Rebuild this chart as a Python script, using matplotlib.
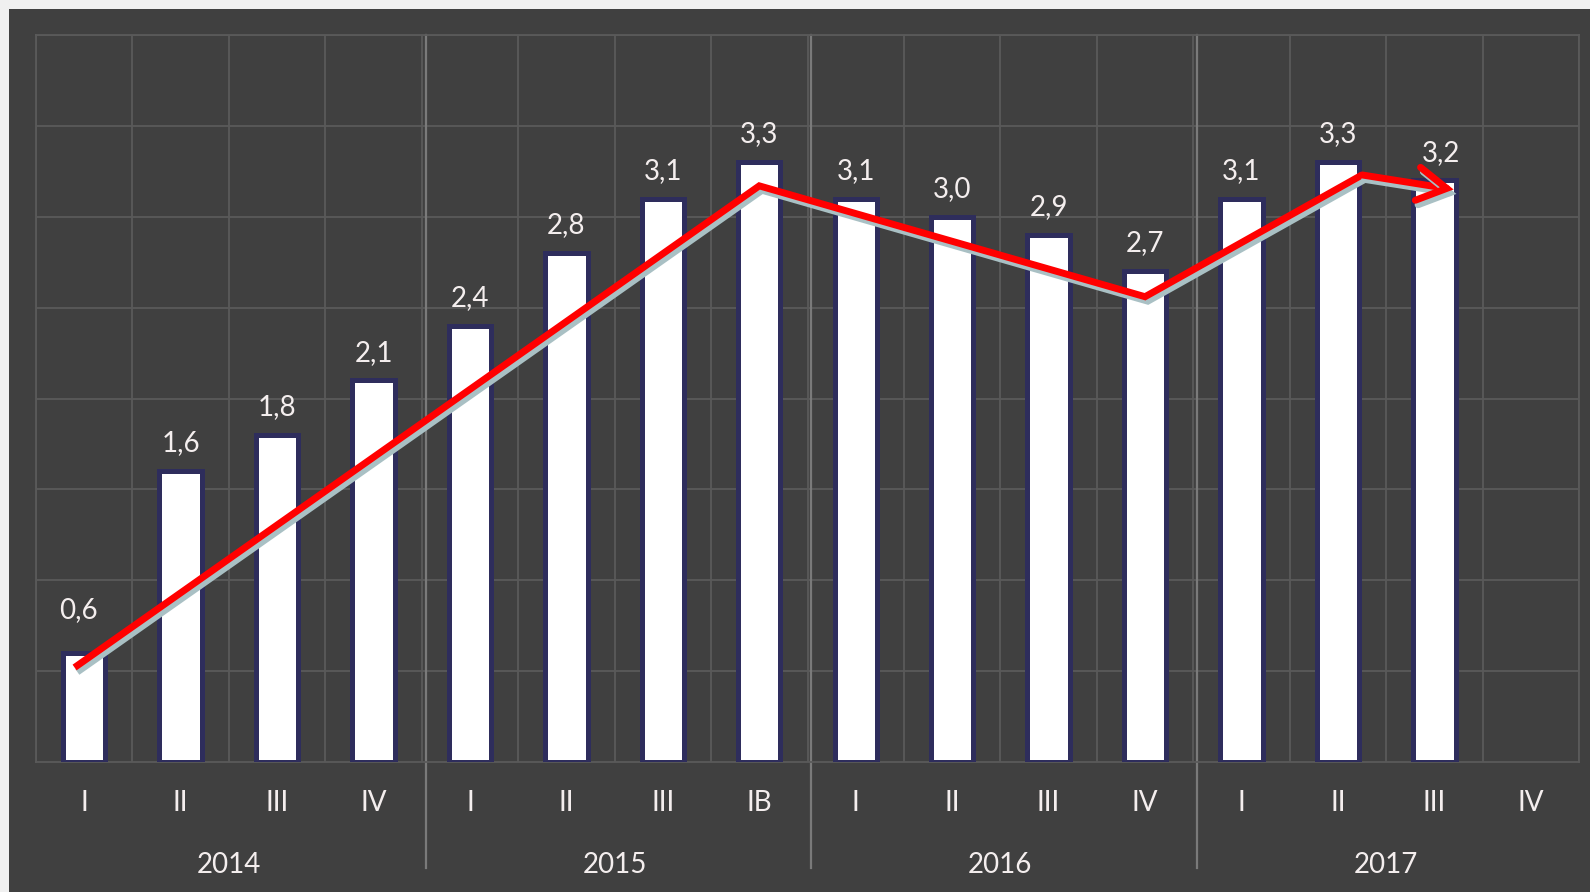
import matplotlib.pyplot as plt
import matplotlib.patheffects as pe
from matplotlib.patches import Rectangle

# data
years = ["2014", "2015", "2016", "2017"]
quarters = ["I", "II", "III", "IV", "I", "II", "III", "IB",
            "I", "II", "III", "IV", "I", "II", "III", "IV"]
values = [0.6, 1.6, 1.8, 2.1, 2.4, 2.8, 3.1, 3.3,
          3.1, 3.0, 2.9, 2.7, 3.1, 3.3, 3.2]
labels = ["0,6", "1,6", "1,8", "2,1", "2,4", "2,8", "3,1", "3,3",
          "3,1", "3,0", "2,9", "2,7", "3,1", "3,3", "3,2"]
# hand-drawn trend arrow (category index, value)
trend_x = [-0.1, 7.0, 11.0, 13.25]
trend_y = [0.52, 3.17, 2.56, 3.23]
arrow_end = (14.2, 3.15)

bg = "#404040"
grid_c = "#5a5a5a"
txt_c = "#f4eeee"
font = ["Lato", "DejaVu Sans"]

fig = plt.figure(figsize=(15.9, 8.92), dpi=100, facecolor="#f0f0f0")
fig.add_artist(Rectangle((9 / 1590, 0), 1, (892 - 9) / 892,
                         transform=fig.transFigure, facecolor=bg,
                         edgecolor="none", zorder=0))
ax = fig.add_axes([36 / 1590, (892 - 762) / 892, (1579 - 36) / 1590, 727 / 892])
ax.set_facecolor(bg)
ax.set_xlim(-0.5, 15.5)
ax.set_ylim(0, 4)

# grid
for y in [0.5 * k for k in range(1, 9)]:
    ax.axhline(y, color=grid_c, lw=1.3, zorder=1)
for k in range(17):
    ax.axvline(k - 0.5, color=grid_c, lw=1.3, zorder=1)
for sp in ax.spines.values():
    sp.set_color(grid_c)
    sp.set_linewidth(1.3)

# year separators
for k in [3.5, 7.5, 11.5]:
    ax.plot([k + 0.04, k + 0.04], [1, -0.146], transform=ax.get_xaxis_transform(),
            color="#7a7a7a", lw=1.6, clip_on=False, zorder=2)

ax.set_xticks([])
ax.set_yticks([])

# bars
xs = list(range(len(values)))
ax.bar(xs, values, width=0.44, color="white", edgecolor="#2e2d5c",
       linewidth=3.6, zorder=3)

# value labels
for i, (v, lab) in enumerate(zip(values, labels)):
    dy, dx = 20, 0
    if i == 0:
        dy, dx = 31, -4
    if i == 14:
        dx = 5
    ax.annotate(lab, (i, v), xytext=(dx, dy), textcoords="offset points",
                ha="center", va="center", color=txt_c, fontsize=20,
                family=font, zorder=5)

# category labels
for i, q in enumerate(quarters):
    ax.text(i, -0.057, q, transform=ax.get_xaxis_transform(), ha="center",
            va="center", color=txt_c, fontsize=20, family=font)
for j, yr in enumerate(years):
    ax.text(4 * j + 1.5, -0.141, yr, transform=ax.get_xaxis_transform(),
            ha="center", va="center", color=txt_c, fontsize=20, family=font)

# trend line with shadow
shadow = [pe.SimpleLineShadow(offset=(2, -3.2), shadow_color="#a9c0c4",
                              alpha=1.0), pe.Normal()]
ax.plot(trend_x, trend_y, color="#ff0000", lw=5.0, solid_joinstyle="miter",
        solid_capstyle="butt", zorder=4, path_effects=shadow)
ax.annotate("", xy=arrow_end, xytext=(trend_x[-1], trend_y[-1]),
            arrowprops=dict(arrowstyle="->,head_length=2.1,head_width=1.2",
                            color="#ff0000", lw=5.0, shrinkA=0, shrinkB=0,
                            joinstyle="miter", path_effects=shadow),
            zorder=4)

fig.savefig("out.png", dpi=100, facecolor=fig.get_facecolor())
